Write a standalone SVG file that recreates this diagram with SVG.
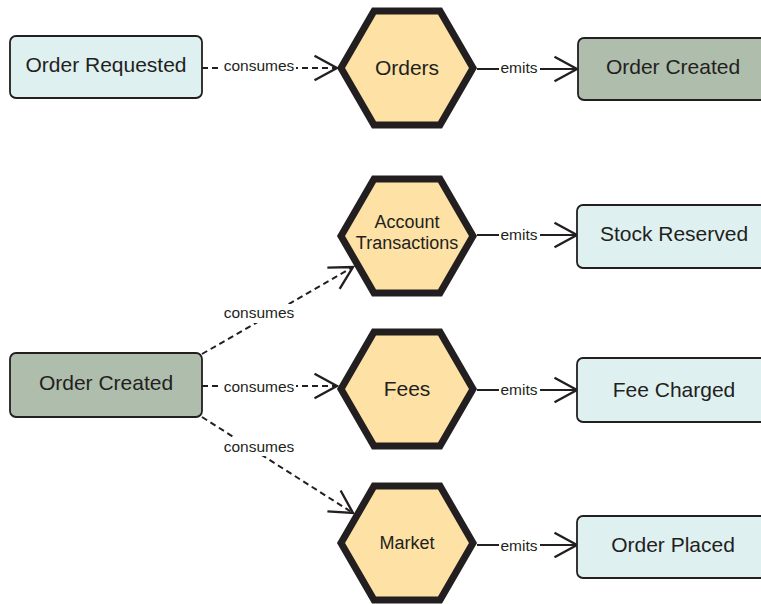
<svg xmlns="http://www.w3.org/2000/svg" width="761" height="604" viewBox="0 0 761 604">
<style>
.box{stroke:#231f20;stroke-width:1.8}
.light{fill:#dff0f0}
.green{fill:#afbdad}
.hex{fill:#fde1a5;stroke:#231f20;stroke-width:7;stroke-linejoin:miter}
.t{font-family:"Liberation Sans",Arial,sans-serif;fill:#231f20;text-anchor:middle}
.nt{font-size:21px}
.ht{font-size:18px}
.lt{font-size:15.5px}
.dash{stroke:#231f20;stroke-width:2;fill:none;stroke-dasharray:6 4}
.solid{stroke:#231f20;stroke-width:2;fill:none}
.bg{fill:#ffffff}
</style>
<defs>
<marker id="arr" markerUnits="userSpaceOnUse" markerWidth="30" markerHeight="30" viewBox="-24 -14 28 28" refX="0" refY="0" orient="auto">
<path d="M-21,-11.5 L0,0 L-21,11.5" fill="none" stroke="#231f20" stroke-width="2.2"/>
</marker>
</defs>
<rect width="761" height="604" fill="#ffffff"/>

<g id="connectors">
<line class="dash" x1="202" y1="68" x2="337" y2="68" marker-end="url(#arr)"/>
<rect class="bg" x="221" y="58" width="75" height="18"/>
<text class="t lt" x="259" y="71">consumes</text>

<line class="solid" x1="477" y1="69" x2="577" y2="69" marker-end="url(#arr)"/>
<rect class="bg" x="499" y="60" width="41" height="17"/>
<text class="t lt" x="519" y="73">emits</text>

<line class="solid" x1="477" y1="235" x2="577" y2="235" marker-end="url(#arr)"/>
<rect class="bg" x="499" y="226" width="41" height="17"/>
<text class="t lt" x="519" y="239.500">emits</text>

<line class="solid" x1="477" y1="390" x2="577" y2="390" marker-end="url(#arr)"/>
<rect class="bg" x="499" y="381" width="41" height="17"/>
<text class="t lt" x="519" y="395">emits</text>

<line class="solid" x1="477" y1="545" x2="577" y2="545" marker-end="url(#arr)"/>
<rect class="bg" x="499" y="536" width="41" height="17"/>
<text class="t lt" x="519" y="550.500">emits</text>

<line class="dash" x1="202" y1="354" x2="353" y2="267" marker-end="url(#arr)"/>
<rect class="bg" x="221" y="304" width="75" height="19"/>
<text class="t lt" x="259" y="318">consumes</text>

<line class="dash" x1="202" y1="386" x2="337" y2="386" marker-end="url(#arr)"/>
<rect class="bg" x="221" y="378" width="75" height="18"/>
<text class="t lt" x="259" y="392">consumes</text>

<line class="dash" x1="202" y1="417" x2="353" y2="513" marker-end="url(#arr)"/>
<rect class="bg" x="221" y="437" width="75" height="19"/>
<text class="t lt" x="259" y="451.500">consumes</text>
</g>

<g id="order-requested">
<rect class="box light" x="10" y="36" width="192" height="62" rx="6"/>
<text class="t nt" x="106" y="72">Order Requested</text>
</g>

<g id="orders">
<polygon class="hex" points="341,68 374,11 440,11 473,68 440,125 374,125"/>
<text class="t nt" x="407" y="75">Orders</text>
</g>

<g id="order-created-top">
<rect class="box green" x="578" y="38" width="200" height="62" rx="6"/>
<text class="t nt" x="673" y="74">Order Created</text>
</g>

<g id="account-transactions">
<polygon class="hex" points="341,236 374,179 440,179 473,236 440,293 374,293"/>
<text class="t ht" x="407" y="228">Account</text>
<text class="t ht" x="407" y="249">Transactions</text>
</g>

<g id="stock-reserved">
<rect class="box light" x="577" y="205" width="200" height="63" rx="6"/>
<text class="t nt" x="674" y="241">Stock Reserved</text>
</g>

<g id="order-created-bottom">
<rect class="box green" x="10" y="353" width="192" height="64" rx="6"/>
<text class="t nt" x="106" y="390">Order Created</text>
</g>

<g id="fees">
<polygon class="hex" points="341,389 374,332 440,332 473,389 440,446 374,446"/>
<text class="t nt" x="407" y="396">Fees</text>
</g>

<g id="fee-charged">
<rect class="box light" x="577" y="358" width="200" height="64" rx="6"/>
<text class="t nt" x="674" y="397">Fee Charged</text>
</g>

<g id="market">
<polygon class="hex" points="341,543 374,486 440,486 473,543 440,600 374,600"/>
<text class="t ht" x="407" y="549">Market</text>
</g>

<g id="order-placed">
<rect class="box light" x="577" y="516" width="200" height="62" rx="6"/>
<text class="t nt" x="673" y="552">Order Placed</text>
</g>
</svg>
